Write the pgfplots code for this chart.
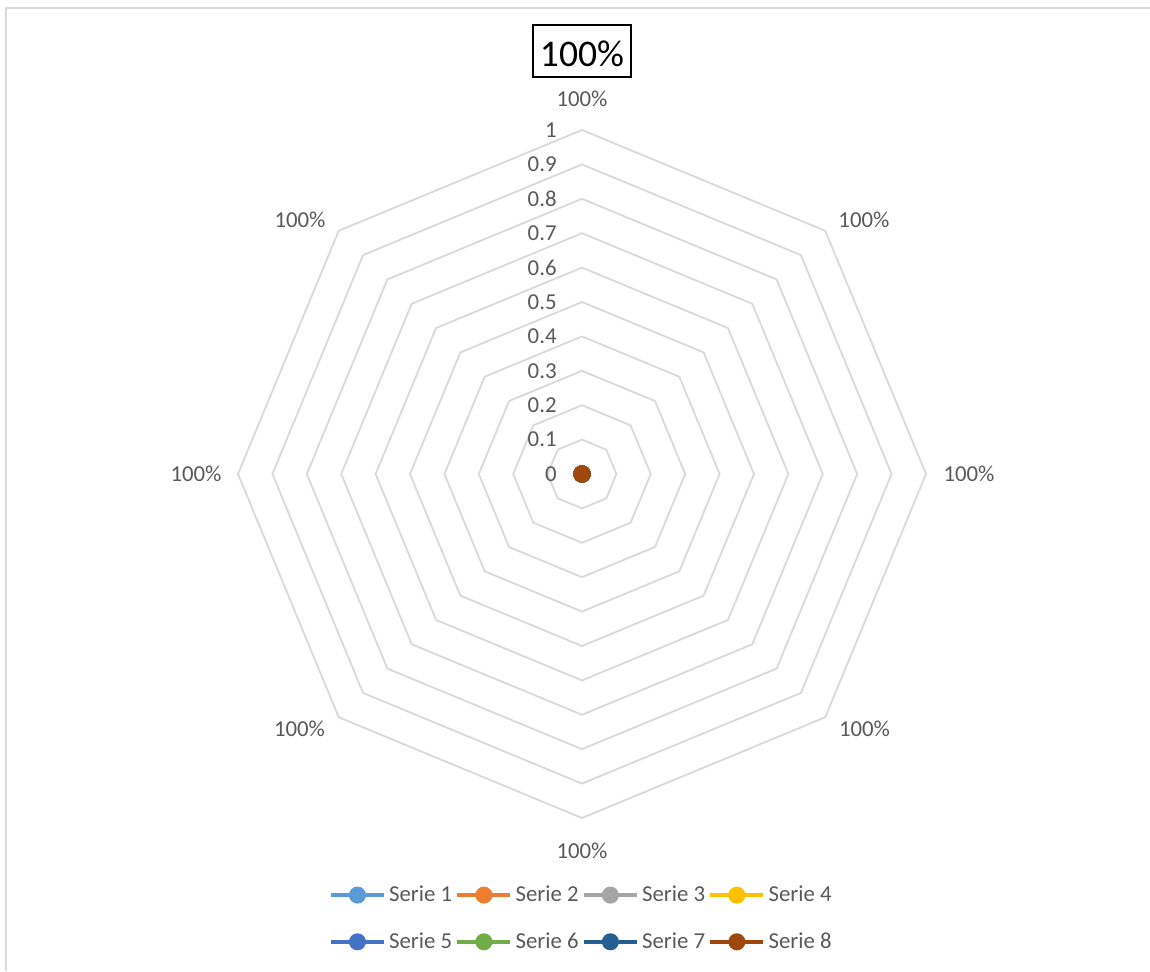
\documentclass[border=0pt]{standalone}
\usepackage{fontspec}
\setmainfont{Carlito}
\usepackage{pgfplots}
\pgfplotsset{compat=1.18}
\usepgfplotslibrary{polar}
\definecolor{txt}{HTML}{595959}
\definecolor{grd}{HTML}{D9D9D9}
\definecolor{s1}{HTML}{5B9BD5}
\definecolor{s2}{HTML}{ED7D31}
\definecolor{s3}{HTML}{A5A5A5}
\definecolor{s4}{HTML}{FFC000}
\definecolor{s5}{HTML}{4472C4}
\definecolor{s6}{HTML}{70AD47}
\definecolor{s7}{HTML}{255E91}
\definecolor{s8}{HTML}{9E480E}
\newcommand{\lblfont}{\fontsize{11.4}{13.7}\selectfont}
\begin{document}
\begin{tikzpicture}
\useasboundingbox (0,0) rectangle (575pt,485.5pt);
\draw[grd, line width=1pt] (3pt,0) -- (3pt,481.65pt) -- (575pt,481.65pt);
\begin{polaraxis}[
  at={(291pt,248.5pt)}, anchor=origin,
  width=344pt, height=344pt, scale only axis,
  ymin=0, ymax=1, xmin=0, xmax=360,
  xtick=\empty, ytick=\empty,
  axis line style={draw=none},
  clip=false,
  title={100\%},
  title style={at={(0.5,1)}, anchor=south, yshift=11.5pt, draw=black, line width=1pt,
    font=\fontsize{18.8}{22}\selectfont, inner xsep=3.5pt, inner ysep=0pt,
    text height=20.6pt, text depth=5.5pt, text=black},
  legend columns=4,
  legend cell align=left,
  legend style={at={(0.4975,-0.1460)}, anchor=center, draw=none, fill=none,
    font=\lblfont, text=txt, column sep=1.6pt, row sep=14pt, nodes={inner sep=0pt}},
  legend image code/.code={\draw[mark repeat=2,mark phase=2,#1] plot coordinates {(0pt,0pt) (13.25pt,0pt) (26.5pt,0pt)};},
  every axis plot/.append style={line width=2pt, mark=*, mark size=3.25pt},
]
% gridlines (octagons)
\addplot[forget plot, grd, line width=0.9pt, mark=none, line cap=round, line join=miter] coordinates {(90,0.1) (45,0.1) (0,0.1) (315,0.1) (270,0.1) (225,0.1) (180,0.1) (135,0.1) (90,0.1)};
\addplot[forget plot, grd, line width=0.9pt, mark=none, line cap=round, line join=miter] coordinates {(90,0.2) (45,0.2) (0,0.2) (315,0.2) (270,0.2) (225,0.2) (180,0.2) (135,0.2) (90,0.2)};
\addplot[forget plot, grd, line width=0.9pt, mark=none, line cap=round, line join=miter] coordinates {(90,0.3) (45,0.3) (0,0.3) (315,0.3) (270,0.3) (225,0.3) (180,0.3) (135,0.3) (90,0.3)};
\addplot[forget plot, grd, line width=0.9pt, mark=none, line cap=round, line join=miter] coordinates {(90,0.4) (45,0.4) (0,0.4) (315,0.4) (270,0.4) (225,0.4) (180,0.4) (135,0.4) (90,0.4)};
\addplot[forget plot, grd, line width=0.9pt, mark=none, line cap=round, line join=miter] coordinates {(90,0.5) (45,0.5) (0,0.5) (315,0.5) (270,0.5) (225,0.5) (180,0.5) (135,0.5) (90,0.5)};
\addplot[forget plot, grd, line width=0.9pt, mark=none, line cap=round, line join=miter] coordinates {(90,0.6) (45,0.6) (0,0.6) (315,0.6) (270,0.6) (225,0.6) (180,0.6) (135,0.6) (90,0.6)};
\addplot[forget plot, grd, line width=0.9pt, mark=none, line cap=round, line join=miter] coordinates {(90,0.7) (45,0.7) (0,0.7) (315,0.7) (270,0.7) (225,0.7) (180,0.7) (135,0.7) (90,0.7)};
\addplot[forget plot, grd, line width=0.9pt, mark=none, line cap=round, line join=miter] coordinates {(90,0.8) (45,0.8) (0,0.8) (315,0.8) (270,0.8) (225,0.8) (180,0.8) (135,0.8) (90,0.8)};
\addplot[forget plot, grd, line width=0.9pt, mark=none, line cap=round, line join=miter] coordinates {(90,0.9) (45,0.9) (0,0.9) (315,0.9) (270,0.9) (225,0.9) (180,0.9) (135,0.9) (90,0.9)};
\addplot[forget plot, grd, line width=0.9pt, mark=none, line cap=round, line join=miter] coordinates {(90,1) (45,1) (0,1) (315,1) (270,1) (225,1) (180,1) (135,1) (90,1)};
% radial tick labels
\node[anchor=east, inner sep=0pt, xshift=-12.5pt, text=txt, font=\lblfont] at (axis cs:90,0) {0};
\node[anchor=east, inner sep=0pt, xshift=-12.5pt, text=txt, font=\lblfont] at (axis cs:90,0.1) {0.1};
\node[anchor=east, inner sep=0pt, xshift=-12.5pt, text=txt, font=\lblfont] at (axis cs:90,0.2) {0.2};
\node[anchor=east, inner sep=0pt, xshift=-12.5pt, text=txt, font=\lblfont] at (axis cs:90,0.3) {0.3};
\node[anchor=east, inner sep=0pt, xshift=-12.5pt, text=txt, font=\lblfont] at (axis cs:90,0.4) {0.4};
\node[anchor=east, inner sep=0pt, xshift=-12.5pt, text=txt, font=\lblfont] at (axis cs:90,0.5) {0.5};
\node[anchor=east, inner sep=0pt, xshift=-12.5pt, text=txt, font=\lblfont] at (axis cs:90,0.6) {0.6};
\node[anchor=east, inner sep=0pt, xshift=-12.5pt, text=txt, font=\lblfont] at (axis cs:90,0.7) {0.7};
\node[anchor=east, inner sep=0pt, xshift=-12.5pt, text=txt, font=\lblfont] at (axis cs:90,0.8) {0.8};
\node[anchor=east, inner sep=0pt, xshift=-12.5pt, text=txt, font=\lblfont] at (axis cs:90,0.9) {0.9};
\node[anchor=east, inner sep=0pt, xshift=-12.5pt, text=txt, font=\lblfont] at (axis cs:90,1) {1};
% category labels
\node[inner sep=0pt, text=txt, font=\lblfont] at (axis cs:90,1.090) {100\%};
\node[inner sep=0pt, text=txt, font=\lblfont] at (axis cs:42,1.103) {100\%};
\node[inner sep=0pt, text=txt, font=\lblfont] at (axis cs:0,1.125) {100\%};
\node[inner sep=0pt, text=txt, font=\lblfont] at (axis cs:318,1.105) {100\%};
\node[inner sep=0pt, text=txt, font=\lblfont] at (axis cs:270,1.096) {100\%};
\node[inner sep=0pt, text=txt, font=\lblfont] at (axis cs:222,1.105) {100\%};
\node[inner sep=0pt, text=txt, font=\lblfont] at (axis cs:180,1.122) {100\%};
\node[inner sep=0pt, text=txt, font=\lblfont] at (axis cs:138,1.103) {100\%};
% series (all zero)
\addplot[s1] coordinates {(90,0) (45,0) (0,0) (315,0) (270,0) (225,0) (180,0) (135,0) (90,0)};
\addlegendentry{Serie 1}
\addplot[s2] coordinates {(90,0) (45,0) (0,0) (315,0) (270,0) (225,0) (180,0) (135,0) (90,0)};
\addlegendentry{Serie 2}
\addplot[s3] coordinates {(90,0) (45,0) (0,0) (315,0) (270,0) (225,0) (180,0) (135,0) (90,0)};
\addlegendentry{Serie 3}
\addplot[s4] coordinates {(90,0) (45,0) (0,0) (315,0) (270,0) (225,0) (180,0) (135,0) (90,0)};
\addlegendentry{Serie 4}
\addplot[s5] coordinates {(90,0) (45,0) (0,0) (315,0) (270,0) (225,0) (180,0) (135,0) (90,0)};
\addlegendentry{Serie 5}
\addplot[s6] coordinates {(90,0) (45,0) (0,0) (315,0) (270,0) (225,0) (180,0) (135,0) (90,0)};
\addlegendentry{Serie 6}
\addplot[s7] coordinates {(90,0) (45,0) (0,0) (315,0) (270,0) (225,0) (180,0) (135,0) (90,0)};
\addlegendentry{Serie 7}
\addplot[s8] coordinates {(90,0) (45,0) (0,0) (315,0) (270,0) (225,0) (180,0) (135,0) (90,0)};
\addlegendentry{Serie 8}
\end{polaraxis}
\end{tikzpicture}
\end{document}
